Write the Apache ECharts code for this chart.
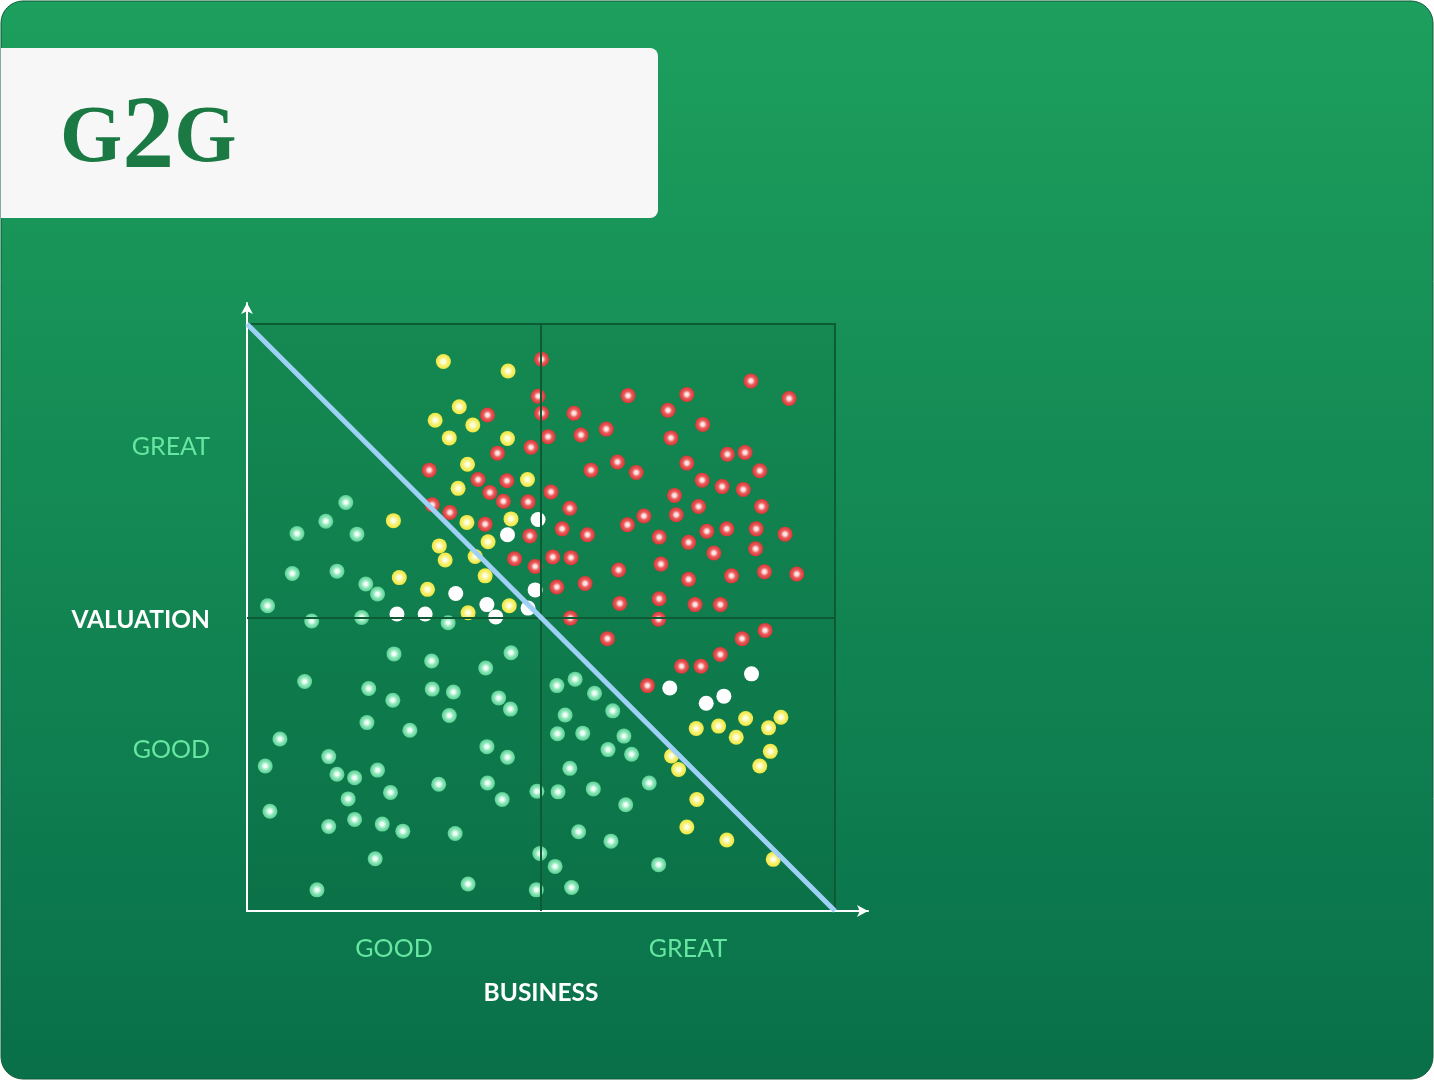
<!DOCTYPE html>
<html>
<head>
<meta charset="utf-8">
<title>G2G</title>
<script src="https://cdn.jsdelivr.net/npm/echarts@6/dist/echarts.min.js"></script>
<style>
  html, body { margin: 0; padding: 0; background: #ffffff; }
  #chart { width: 1434px; height: 1080px; }
</style>
</head>
<body>
<div id="chart"></div>
<script>
// tick labels
var xTickValues = [25, 75]
var xTickLabels = ['GOOD', 'GREAT']
var yTickValues = [27.5, 49.5, 79]
var yTickLabels = ['GOOD', 'VALUATION', 'GREAT']
var xName = 'BUSINESS'
var divider = [50, 50]

// business (x) vs valuation (y), 0..100
var greenPts = [
  [16.8, 69.6], [13.4, 66.4], [8.5, 64.3], [18.7, 64.2], [7.7, 57.5], [15.3, 57.9],
  [20.2, 55.7], [22.2, 54.0], [3.5, 52.0], [11.0, 49.4], [19.5, 50.0], [34.2, 49.1],
  [25.0, 43.8], [31.4, 42.6], [44.9, 44.0], [40.6, 41.4], [9.8, 39.1], [20.7, 37.9],
  [24.8, 35.9], [31.5, 37.8], [35.1, 37.3], [42.8, 36.3], [44.8, 34.4], [34.4, 33.3],
  [20.4, 32.1], [27.7, 30.8], [5.6, 29.3], [13.9, 26.3], [40.8, 28.0], [44.3, 26.2],
  [3.1, 24.7], [15.3, 23.3], [18.3, 22.7], [22.2, 24.0], [24.4, 20.2], [32.6, 21.6],
  [40.9, 21.8], [43.4, 19.0], [49.3, 20.4], [17.2, 19.1], [3.9, 17.0], [13.9, 14.4],
  [18.3, 15.6], [23.0, 14.8], [26.5, 13.6], [35.4, 13.2], [49.8, 9.8], [21.8, 8.9],
  [37.6, 4.6], [11.9, 3.6], [49.2, 3.6],
  [52.7, 38.4], [55.8, 39.5], [59.1, 37.1], [54.1, 33.4], [62.2, 34.1], [52.8, 30.2],
  [57.1, 30.3], [64.1, 29.8], [61.4, 27.5], [65.4, 26.7], [54.9, 24.3], [52.9, 20.3],
  [58.9, 20.8], [68.4, 21.8], [64.4, 18.1], [56.4, 13.5], [61.9, 11.9], [52.4, 7.6],
  [70.0, 7.9], [55.2, 4.0]
]
var yellowPts = [
  [33.4, 93.6], [44.4, 92.0], [36.1, 85.9], [32.0, 83.6], [38.4, 82.8], [34.4, 80.6],
  [44.3, 80.5], [37.5, 76.1], [47.7, 73.5], [35.9, 72.0], [24.9, 66.5], [37.4, 66.2],
  [44.9, 66.8], [41.0, 62.9], [32.7, 62.2], [33.7, 59.8], [38.8, 60.4], [25.9, 56.8],
  [40.5, 57.1], [30.7, 54.8], [44.6, 52.0], [37.6, 50.8],
  [76.4, 31.1], [80.2, 31.5], [84.8, 32.8], [90.8, 33.0], [88.7, 31.2], [83.2, 29.6],
  [89.0, 27.2], [87.2, 24.7], [72.2, 26.4], [73.4, 24.1], [76.5, 19.0], [74.8, 14.3],
  [81.6, 12.1], [89.5, 8.8]
]
var whitePts = [
  [49.5, 66.7], [44.3, 64.1], [35.5, 54.1], [40.8, 52.2], [49.0, 54.7], [47.8, 51.6],
  [25.5, 50.6], [30.3, 50.6], [42.3, 50.1],
  [71.9, 38.0], [85.8, 40.4], [81.1, 36.6], [78.1, 35.4]
]
var redPts = [
  [50.1, 94.0], [40.9, 84.5], [49.5, 87.7], [50.1, 84.8], [51.2, 80.8], [42.6, 78.0],
  [48.3, 79.0], [31.0, 75.1], [39.3, 73.5], [44.2, 73.3], [41.3, 71.3], [43.6, 69.8],
  [47.8, 69.7], [31.5, 69.2], [34.5, 67.9], [40.5, 65.9], [48.1, 63.9], [45.5, 60.0],
  [49.0, 58.7],
  [64.8, 87.8], [74.8, 88.0], [85.7, 90.3], [92.2, 87.3], [71.6, 85.3], [55.6, 84.8],
  [61.1, 82.1], [56.8, 81.1], [77.5, 82.9], [72.1, 80.6], [81.7, 77.8], [84.7, 78.1],
  [63.0, 76.5], [74.8, 76.3], [58.5, 75.1], [66.2, 74.7], [87.2, 75.0], [77.4, 73.4],
  [80.8, 72.3], [84.4, 71.8], [51.7, 71.4], [72.7, 70.8], [54.9, 68.6], [76.8, 68.9],
  [87.5, 68.9], [67.5, 67.3], [73.0, 67.5], [64.7, 65.8], [53.6, 65.1], [57.9, 64.1],
  [78.2, 64.7], [81.6, 65.1], [86.6, 65.1], [91.5, 64.2], [70.1, 63.7], [75.1, 62.8],
  [79.4, 61.0], [86.5, 61.7], [52.0, 60.3], [55.1, 60.2], [70.4, 59.1], [63.2, 58.1],
  [88.0, 57.8], [93.5, 57.4], [82.4, 57.1], [75.1, 56.5], [52.7, 55.2], [57.5, 55.8],
  [63.4, 52.4], [70.1, 53.2], [76.2, 52.2], [80.5, 52.2], [55.0, 49.9], [70.0, 49.7],
  [61.3, 46.4], [88.1, 47.8], [84.2, 46.4], [80.5, 43.7], [73.9, 41.7], [77.2, 41.7],
  [68.1, 38.4]
]
var fairLine = [[0, 100], [100, 0]]

// shaded ball: light core, solid rim
function ball(core, mid, rim) {
  return {
    type: 'radial', x: 0.5, y: 0.5, r: 0.5,
    colorStops: [
      { offset: 0, color: core },
      { offset: 0.2, color: core },
      { offset: 0.55, color: mid },
      { offset: 1, color: rim }
    ]
  }
}

function dots(name, data, color) {
  return {
    name: name,
    type: 'scatter',
    xAxisIndex: 0,
    yAxisIndex: 0,
    data: data,
    symbolSize: 15,
    z: 3,
    silent: true,
    itemStyle: { color: color, opacity: 1 }
  }
}

var chart = echarts.init(document.getElementById('chart'))
chart.setOption({
  animation: false,
  graphic: [{
    type: 'rect',
    z: -10,
    shape: { x: 1, y: 1, width: 1432, height: 1078, r: 22 },
    style: {
      fill: {
        type: 'linear', x: 0, y: 0, x2: 0, y2: 1,
        colorStops: [{ offset: 0, color: '#1d9f5d' }, { offset: 1, color: '#09704a' }]
      },
      stroke: '#0d5a38',
      lineWidth: 1
    }
  }, {
    type: 'rect',
    z: -9,
    shape: { x: 1, y: 48, width: 657, height: 170, r: [0, 8, 8, 0] },
    style: { fill: '#f7f7f7' }
  }, {
    type: 'text',
    z: -8,
    left: 60,
    top: 88,
    style: {
      text: '{g|G}{n|2}{g|G}',
      rich: {
        g: { fill: '#1b7a43', font: 'bold 80px "Liberation Serif"', verticalAlign: 'middle' },
        n: { fill: '#1b7a43', font: 'bold 104px "Liberation Serif"', verticalAlign: 'middle' }
      }
    }
  }],
  grid: [{
    left: 247, top: 324, width: 588, height: 587,
    show: true,
    backgroundColor: 'rgba(0, 40, 20, 0.07)',
    borderColor: '#0d5b35',
    borderWidth: 2
  }, {
    left: 247, top: 303, width: 621, height: 608
  }],
  xAxis: [{
    gridIndex: 0,
    type: 'value', min: 0, max: 100,
    axisLine: { show: false },
    axisTick: { show: false },
    splitLine: { show: false },
    axisLabel: {
      customValues: xTickValues,
      formatter: function (v) { return xTickLabels[xTickValues.indexOf(v)] },
      color: '#66e6a0',
      fontFamily: 'Lato',
      fontSize: 25,
      margin: 25
    },
    name: xName,
    nameLocation: 'middle',
    nameGap: 70,
    nameTextStyle: { color: '#ffffff', fontFamily: 'Lato', fontWeight: 'bold', fontSize: 24.5 }
  }, {
    gridIndex: 1,
    type: 'value', min: 0, max: 1,
    axisLine: { lineStyle: { color: '#ffffff', width: 2 }, symbol: ['none', 'arrow'], symbolSize: [9, 11] },
    axisTick: { show: false },
    axisLabel: { show: false },
    splitLine: { show: false }
  }],
  yAxis: [{
    gridIndex: 0,
    type: 'value', min: 0, max: 100,
    axisLine: { show: false },
    axisTick: { show: false },
    splitLine: { show: false },
    axisLabel: {
      customValues: yTickValues,
      formatter: function (v) {
        var t = yTickLabels[yTickValues.indexOf(v)]
        return t === 'VALUATION' ? '{v|' + t + '}' : t
      },
      color: '#66e6a0',
      fontFamily: 'Lato',
      fontSize: 25,
      margin: 37,
      rich: { v: { color: '#ffffff', fontFamily: 'Lato', fontWeight: 'bold', fontSize: 24.5 } }
    }
  }, {
    gridIndex: 1,
    type: 'value', min: 0, max: 1,
    axisLine: { lineStyle: { color: '#ffffff', width: 2 }, symbol: ['none', 'arrow'], symbolSize: [9, 11] },
    axisTick: { show: false },
    axisLabel: { show: false },
    splitLine: { show: false }
  }],
  series: [{
    type: 'scatter',
    data: [],
    z: 1,
    markLine: {
      silent: true,
      symbol: 'none',
      label: { show: false },
      lineStyle: { color: '#0d5b35', width: 2, type: 'solid' },
      data: [{ xAxis: divider[0] }, { yAxis: divider[1] }]
    }
  },
    dots('green', greenPts, ball('#f2fff8', '#8fe8bb', '#5acf93')),
    dots('yellow', yellowPts, ball('#ffffe6', '#f7f27a', '#eee63c')),
    dots('red', redPts, ball('#ffe6e6', '#ea5a5a', '#d93636')),
    dots('white', whitePts, '#ffffff'),
  {
    type: 'line',
    data: fairLine,
    z: 5,
    silent: true,
    symbol: 'none',
    lineStyle: { color: '#9fd0f6', width: 5 }
  }]
})
</script>
</body>
</html>
